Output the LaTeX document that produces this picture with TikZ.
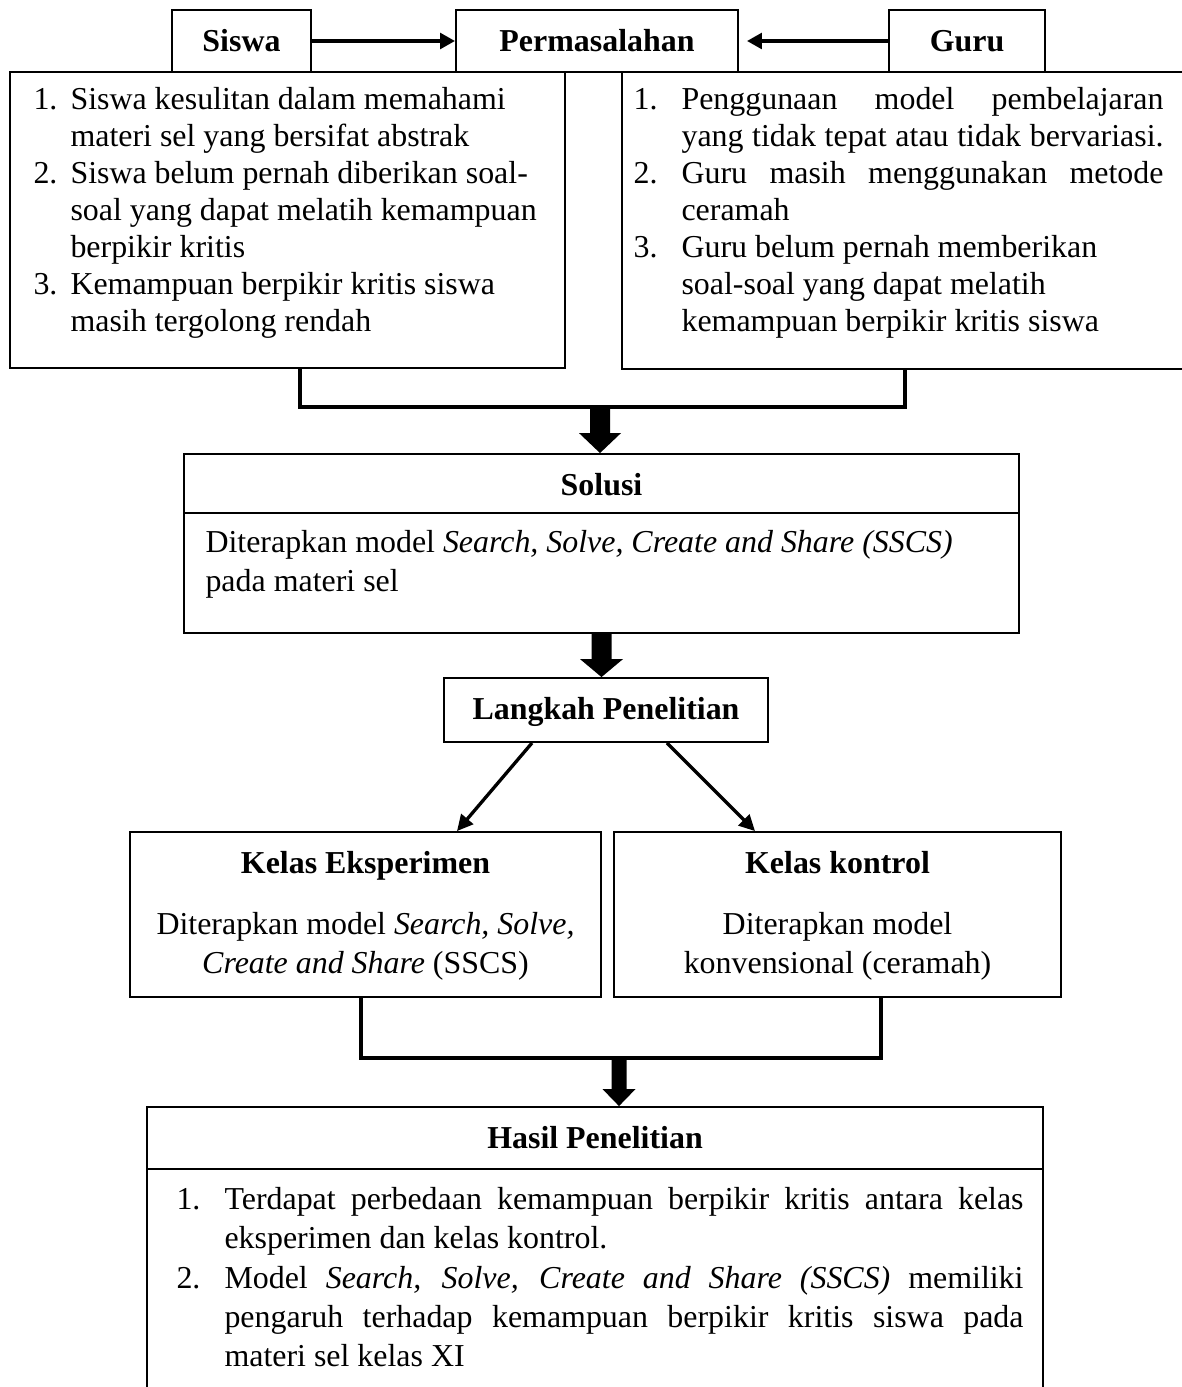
\documentclass[tikz,border=0pt]{standalone}
\usepackage{fontspec}
\setmainfont{Liberation Serif}
\usetikzlibrary{arrows.meta,fit,calc}
\newdimen\px \px=0.376pt
\newdimen\hangw
\newcommand{\lblock}[2]{\vtop{\baselineskip=#1\lineskiplimit=-20pt\lineskip=0pt #2}}
\newcommand{\itm}[2]{\hbox{\hbox to \hangw{#1\hfil}#2}}
\newcommand{\cnt}[1]{\hbox{\hskip\hangw #1}}
\newcommand{\blockarrow}[5]{\fill ($(#1)+(-#3,0)$) -- ($(#2)+(-#3,-#5)$) -- ($(#2)+(-#4,-#5)$) -- (#2) -- ($(#2)+(#4,-#5)$) -- ($(#2)+(#3,-#5)$) -- ($(#1)+(#3,0)$) -- cycle;}
\begin{document}
\begin{tikzpicture}[x=0.376pt, y=-0.376pt, font=\fontsize{12pt}{14pt}\selectfont,
  box/.style={draw, line width=0.7pt, inner sep=0pt},
  ttl/.style={font=\fontsize{12pt}{14pt}\selectfont\bfseries, inner sep=0pt, anchor=base},
  txt/.style={inner sep=0pt, anchor=base west},
  ctxt/.style={inner sep=0pt, anchor=base},
  side/.style={line width=1.5pt, -{Triangle[length=5.6pt,width=5.8pt]}},
  diag/.style={line width=1.25pt, -{Triangle[length=6pt,width=5.8pt]}},
  bracket/.style={line width=1.7pt},
  divider/.style={line width=0.7pt}]
\useasboundingbox[fill=white] (0,0) rectangle (1181,1387);

% top row
\node[box, fit={(172,10) (311,72)}] (siswa) {};
\node[box, fit={(456,10) (738,72)}] (perm) {};
\node[box, fit={(889,10) (1045,72)}] (guru) {};
\node[ttl] (tsiswa) at (241.5,52) {Siswa};
\node[ttl] (tperm) at (597,52) {Permasalahan};
\node[ttl] (tguru) at (967,52) {Guru};

% problem boxes
\node[box, fit={(10,72) (565,368)}] (lbox) {};
\node[box, fit={(622,72) (1200,369)}] (rbox) {};
\node[txt] (ltext) at (33,110) {\hangw=37\px\lblock{13.9pt}{%
  \itm{1.}{Siswa kesulitan dalam memahami}%
  \cnt{materi sel yang bersifat abstrak}%
  \itm{2.}{Siswa belum pernah diberikan soal-}%
  \cnt{soal yang dapat melatih kemampuan}%
  \cnt{berpikir kritis}%
  \itm{3.}{Kemampuan berpikir kritis siswa}%
  \cnt{masih tergolong rendah}}};
\node[txt] (rtext) at (633,110) {\hangw=48\px\lblock{13.9pt}{%
  \itm{1.}{\hbox to 482\px{Penggunaan model pembelajaran}}%
  \cnt{\hbox to 482\px{yang tidak tepat atau tidak bervariasi.}}%
  \itm{2.}{\hbox to 482\px{Guru masih menggunakan metode}}%
  \cnt{ceramah}%
  \itm{3.}{Guru belum pernah memberikan}%
  \cnt{soal-soal yang dapat melatih}%
  \cnt{kemampuan berpikir kritis siswa}}};

% solusi
\node[box, fit={(184,454) (1019,633)}] (solusi) {};
\draw[divider] (184,513) -- (1019,513);
\node[ttl] (tsolusi) at (601.5,495) {Solusi};
\node[txt] (bsolusi) at (205,552) {\lblock{15pt}{%
  \hbox{Diterapkan model \textit{Search, Solve, Create and Share (SSCS)}}%
  \hbox{pada materi sel}}};

% langkah
\node[box, fit={(444,678) (768,742)}] (langkah) {};
\node[ttl] (tlangkah) at (606,719) {Langkah Penelitian};

% kelas
\node[box, fit={(130,832) (601,997)}] (keksp) {};
\node[box, fit={(614,832) (1061,997)}] (kkont) {};
\node[ttl] (tkeksp) at (365.5,873) {Kelas Eksperimen};
\node[ttl] (tkkont) at (837.5,873) {Kelas kontrol};
\node[ctxt] (bkeksp) at (365.5,934) {\lblock{14.7pt}{%
  \hbox to 460\px{\hss Diterapkan model \textit{Search, Solve,}\hss}%
  \hbox to 460\px{\hss\textit{Create and Share} (SSCS)\hss}}};
\node[ctxt] (bkkont) at (837.5,934) {\lblock{14.7pt}{%
  \hbox to 440\px{\hss Diterapkan model\hss}%
  \hbox to 440\px{\hss konvensional (ceramah)\hss}}};

% hasil
\node[box, fit={(147,1107) (1043,1420)}] (hasil) {};
\draw[divider] (147,1169) -- (1043,1169);
\node[ttl] (thasil) at (595,1148) {Hasil Penelitian};
\node[txt] (bhasil) at (176,1209) {\hangw=48\px\lblock{14.85pt}{%
  \itm{1.}{\hbox to 799\px{Terdapat perbedaan kemampuan berpikir kritis antara kelas}}%
  \cnt{eksperimen dan kelas kontrol.}%
  \itm{2.}{\hbox to 799\px{Model \textit{Search, Solve, Create and Share (SSCS)} memiliki}}%
  \cnt{\hbox to 799\px{pengaruh terhadap kemampuan berpikir kritis siswa pada}}%
  \cnt{materi sel kelas XI}}};

% connectors
\draw[side] (siswa.east) -- (perm.west);
\draw[side, shorten >=3pt] (guru.west) -- (perm.east);

\coordinate (j1) at (600,407);
\draw[bracket] ($(lbox.south)+(12.5,0)$) |- (j1) -| ($(rbox.south)+(-6,0)$);
\coordinate (t1) at (j1 |- solusi.north);
\blockarrow{j1}{t1}{10}{21}{20}

\coordinate (t2) at (solusi.south |- langkah.north);
\blockarrow{solusi.south}{t2}{10}{21.5}{18}

\draw[diag] ($(langkah.south)+(-74,0)$) -- ($(keksp.north)+(91.5,0)$);
\draw[diag] ($(langkah.south)+(61,0)$) -- ($(kkont.north)+(-82.5,0)$);

\coordinate (j2) at (619,1058);
\draw[bracket] ($(keksp.south)+(-4.5,0)$) |- (j2) -| ($(kkont.south)+(43.5,0)$);
\coordinate (t3) at (j2 |- hasil.north);
\blockarrow{j2}{t3}{7.5}{16.5}{17}
\end{tikzpicture}
\end{document}
